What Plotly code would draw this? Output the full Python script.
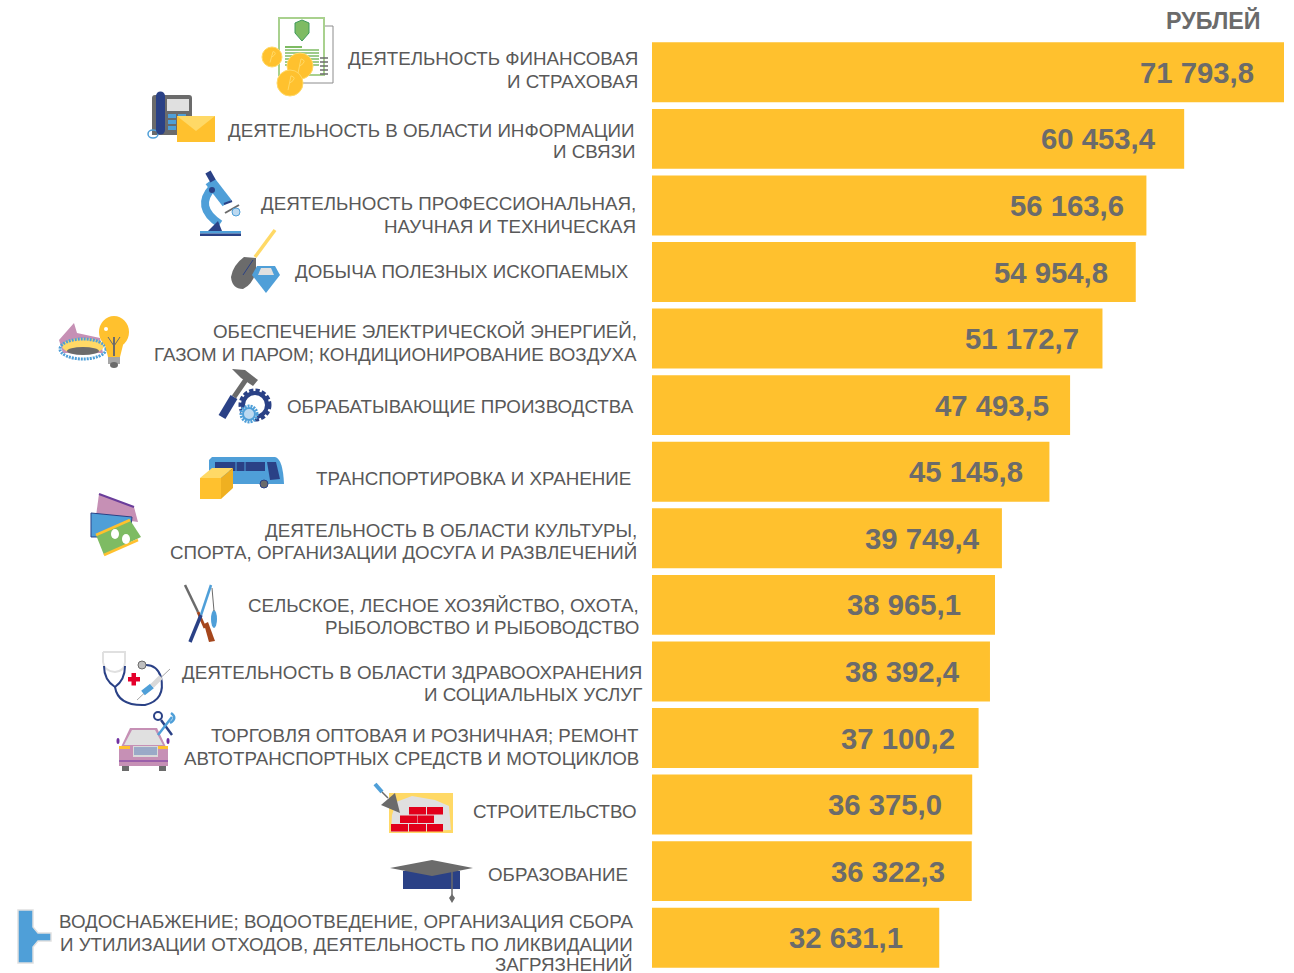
import plotly.graph_objects as go

W, H = 1294, 973
ML, MR, MT, MB = 652, 10, 39, 2

category_lines = [
    ["ДЕЯТЕЛЬНОСТЬ ФИНАНСОВАЯ", "И СТРАХОВАЯ"],
    ["ДЕЯТЕЛЬНОСТЬ В ОБЛАСТИ ИНФОРМАЦИИ", "И СВЯЗИ"],
    ["ДЕЯТЕЛЬНОСТЬ ПРОФЕССИОНАЛЬНАЯ,", "НАУЧНАЯ И ТЕХНИЧЕСКАЯ"],
    ["ДОБЫЧА ПОЛЕЗНЫХ ИСКОПАЕМЫХ"],
    ["ОБЕСПЕЧЕНИЕ ЭЛЕКТРИЧЕСКОЙ ЭНЕРГИЕЙ,", "ГАЗОМ И ПАРОМ; КОНДИЦИОНИРОВАНИЕ ВОЗДУХА"],
    ["ОБРАБАТЫВАЮЩИЕ ПРОИЗВОДСТВА"],
    ["ТРАНСПОРТИРОВКА И ХРАНЕНИЕ"],
    ["ДЕЯТЕЛЬНОСТЬ В ОБЛАСТИ КУЛЬТУРЫ,", "СПОРТА, ОРГАНИЗАЦИИ ДОСУГА И РАЗВЛЕЧЕНИЙ"],
    ["СЕЛЬСКОЕ, ЛЕСНОЕ ХОЗЯЙСТВО, ОХОТА,", "РЫБОЛОВСТВО И РЫБОВОДСТВО"],
    ["ДЕЯТЕЛЬНОСТЬ В ОБЛАСТИ ЗДРАВООХРАНЕНИЯ", "И СОЦИАЛЬНЫХ УСЛУГ"],
    ["ТОРГОВЛЯ ОПТОВАЯ И РОЗНИЧНАЯ; РЕМОНТ", "АВТОТРАНСПОРТНЫХ СРЕДСТВ И МОТОЦИКЛОВ"],
    ["СТРОИТЕЛЬСТВО"],
    ["ОБРАЗОВАНИЕ"],
    ["ВОДОСНАБЖЕНИЕ; ВОДООТВЕДЕНИЕ, ОРГАНИЗАЦИЯ СБОРА",
     "И УТИЛИЗАЦИИ ОТХОДОВ, ДЕЯТЕЛЬНОСТЬ ПО ЛИКВИДАЦИИ", "ЗАГРЯЗНЕНИЙ"],
]
values = [71793.8, 60453.4, 56163.6, 54954.8, 51172.7, 47493.5, 45145.8,
          39749.4, 38965.1, 38392.4, 37100.2, 36375.0, 36322.3, 32631.1]
value_texts = ["71 793,8", "60 453,4", "56 163,6", "54 954,8", "51 172,7", "47 493,5", "45 145,8",
               "39 749,4", "38 965,1", "38 392,4", "37 100,2", "36 375,0", "36 322,3", "32 631,1"]
unit_label = "РУБЛЕЙ"
categories = [" ".join(l) for l in category_lines]

# layout of the labels, in page pixels
label_right = [640, 637, 638, 631, 639, 636, 633, 639, 641, 644, 641, 639, 630, 635]
label_y = [[59, 81], [130, 152], [203, 226], [271], [331, 354], [406], [478], [530, 552],
           [605, 627], [672, 694], [735, 758], [811], [874], [921, 944, 964.5]]
value_gap = [28, 26, 20, 26, 21, 19, 24, 20, 32, 28, 22, 28, 25, 34]

GREY, VALUE_GREY = "#595959", "#6b6b6b"
YEL, LYEL, BLUE, NAVY, PINK, RED, GR, LG = "#ffc12e", "#ffd966", "#4f9fd8", "#2a4186", "#c690b5", "#e2001a", "#6b6b6b", "#e0e0e0"
GREEN, LGREEN = "#7ebb63", "#a9d18e"


def px(x):
    return (x - ML) / (W - ML - MR)


def py(y):
    return 1 - (y - MT) / (H - MT - MB)


shapes = []


def poly(pts, fill, line=None, lw=1):
    d = "M" + " L".join(f"{px(x):.5f},{py(y):.5f}" for x, y in pts) + " Z"
    shapes.append(dict(type="path", xref="paper", yref="paper", path=d, fillcolor=fill,
                       line=dict(color=line or fill, width=lw if line else 0)))


def rect(x0, y0, x1, y1, fill, line=None, lw=1):
    shapes.append(dict(type="rect", xref="paper", yref="paper", x0=px(x0), x1=px(x1), y0=py(y0), y1=py(y1),
                       fillcolor=fill, line=dict(color=line or fill, width=lw if line else 0)))


def ell(cx, cy, rx, ry, fill, line=None, lw=1, dash=None):
    ln = dict(color=line or fill, width=lw if line else 0)
    if dash:
        ln["dash"] = dash
    shapes.append(dict(type="circle", xref="paper", yref="paper", x0=px(cx - rx), x1=px(cx + rx),
                       y0=py(cy + ry), y1=py(cy - ry), fillcolor=fill, line=ln))


def seg(x0, y0, x1, y1, color, lw=2):
    shapes.append(dict(type="line", xref="paper", yref="paper", x0=px(x0), x1=px(x1), y0=py(y0), y1=py(y1),
                       line=dict(color=color, width=lw)))


def curve(cmds, color, lw=2, fill=None):
    parts = []
    for c in cmds:
        parts.append(c[0] + " ".join(f"{px(c[i]):.5f},{py(c[i + 1]):.5f}" for i in range(1, len(c), 2)))
    sh = dict(type="path", xref="paper", yref="paper", path=" ".join(parts) + (" Z" if fill else ""),
              line=dict(color=color, width=lw))
    if fill:
        sh["fillcolor"] = fill
    shapes.append(sh)


# --- finance
rect(287, 26, 333, 83, "white", "#8c8c8c", 1)
rect(279, 18, 324, 75, "white", LGREEN, 2)
poly([(302, 20), (309, 23), (309, 33), (302, 41), (295, 33), (295, 23)], GREEN, "#3f9a5c", 1)
seg(285, 47, 302, 47, GREEN, 2)
for yy in [50, 53, 56, 59, 62, 65]:
    seg(285, yy, 319, yy, GREEN, 1.5)
for yy in [58, 62, 66, 70, 74]:
    seg(320, yy, 328, yy, GR, 1.5)
for cx, cy, r in [(272, 57, 10), (300, 66, 13), (290, 83, 13)]:
    ell(cx, cy, r, r, YEL, LYEL, 1)
    seg(cx - 2, cy + r * .55, cx + 1, cy - r * .55, LYEL, 1)
    curve([("M", cx + 1, cy - r * .55), ("Q", cx + r * .6, cy - r * .4, cx, cy)], LYEL, 1)
# --- phone
curve([("M", 155, 95), ("L", 189, 95), ("Q", 192, 95, 192, 98), ("L", 192, 135), ("L", 152, 135),
       ("L", 152, 98), ("Q", 152, 95, 155, 95)], GR, 0, GR)
rect(167, 99, 189, 111, LG)
for yy in [114, 120, 126]:
    rect(168, yy, 176, yy + 4, BLUE)
    rect(178, yy, 186, yy + 4, BLUE)
ell(153, 134, 5, 4, "rgba(0,0,0,0)", BLUE, 1.5)
seg(160.5, 96, 160.5, 130, NAVY, 9)
ell(160.5, 96, 4.5, 4.5, NAVY)
ell(160.5, 130, 4.5, 4.5, NAVY)
rect(177, 116, 215, 142, YEL)
poly([(177, 116), (215, 116), (196, 131)], LYEL)
# --- microscope
curve([("M", 220, 224), ("Q", 194, 207, 213, 187)], BLUE, 8)
seg(210, 181, 227, 203, BLUE, 11)
seg(208, 172, 213, 181, NAVY, 6)
ell(212, 190, 3, 3, NAVY)
seg(224, 204, 232, 201, NAVY, 2)
seg(225, 213, 239, 205, GR, 2)
ell(236, 212, 4, 4, "#bcd9f0", BLUE, 1)
poly([(208, 231), (222, 231), (218, 221)], NAVY)
rect(200, 231, 241, 233.5, BLUE)
rect(200, 233.5, 241, 236, NAVY)
# --- shovel & diamond
seg(255, 257, 275, 230, LYEL, 3.5)
curve([("M", 256, 258), ("L", 244, 257), ("Q", 233, 265, 231, 277), ("Q", 232, 289, 243, 289),
       ("Q", 252, 285, 256, 272)], GR, 0, GR)
seg(253, 260, 243, 275, NAVY, 1)
poly([(257, 266), (275, 266), (280, 275), (266, 293), (252, 275)], BLUE)
poly([(261, 268), (271, 268), (274, 275), (258, 275)], LG)
# --- burner & bulb
poly([(59, 340), (74, 323), (77, 333), (100, 338), (103, 353), (63, 353)], PINK)
ell(83, 346, 21, 8, LYEL)
ell(83, 349, 23, 10, "rgba(0,0,0,0)", BLUE, 3, "2px,1px")
ell(83, 351, 16, 4, GR)
ell(114, 332, 15, 16, YEL)
poly([(104, 341), (124, 341), (120, 357), (108, 357)], YEL)
ell(106, 329, 2, 2, "white")
seg(114, 337, 114, 356, GR, 2)
seg(108, 337, 114, 346, GR, 1)
seg(120, 337, 114, 346, GR, 1)
rect(108, 357, 120, 364, "#a6a6a6")
ell(114, 365, 4, 3, GR)
# --- hammer & gears
seg(222, 417, 234, 397, NAVY, 8)
seg(234, 397, 247, 378, GR, 5)
poly([(232, 369), (245, 370), (258, 380), (253, 386), (241, 378)], GR)
ell(255, 405, 14, 14, "white", NAVY, 5, "4px,2px")
ell(255, 405, 12, 12, "white", NAVY, 4)
ell(249, 414, 8, 8, "white", BLUE, 3, "2px,1px")
ell(249, 414, 6, 6, "#bcd9f0", BLUE, 2)
# --- bus & box
curve([("M", 212, 457), ("L", 275, 457), ("Q", 283, 459, 284, 484), ("L", 209, 484), ("L", 209, 460)], BLUE, 0, BLUE)
rect(215, 462, 265, 471, NAVY)
seg(236, 462, 236, 471, BLUE, 1)
seg(245, 462, 245, 471, BLUE, 1)
poly([(267, 462), (276, 462), (280, 479), (270, 480)], NAVY)
ell(264, 484, 4, 4, GR, NAVY, 1)
rect(200, 478, 221, 499, YEL)
poly([(200, 478), (212, 468), (233, 468), (221, 478)], LYEL)
poly([(221, 478), (233, 468), (233, 488), (221, 499)], "#efb021")
# --- tickets
poly([(99, 494), (134, 507), (138, 522), (96, 516)], PINK)
seg(99, 494, 134, 507, "#6a3d9a", 2)
poly([(91, 513), (132, 517), (130, 537), (91, 537)], BLUE, NAVY, 1)
poly([(96, 535), (130, 520), (141, 537), (104, 555)], GREEN)
seg(96, 535, 130, 520, YEL, 2.5)
seg(104, 555, 138, 540, YEL, 2.5)
ell(115, 534, 4, 5, "white")
ell(126, 539, 4, 5, "white")
# --- hunting & fishing
seg(185, 585, 198, 612, GR, 2.5)
seg(198, 612, 205, 628, "#a5461c", 3)
poly([(204, 624), (208, 622), (215, 641), (209, 642)], "#a5461c")
seg(211, 585, 201, 615, BLUE, 2.5)
seg(201, 615, 190, 642, NAVY, 3.5)
ell(214, 619, 3, 9, BLUE)
seg(212, 588, 214, 611, GR, 1)
# --- health
curve([("M", 103, 652), ("L", 103, 662), ("Q", 104, 671, 115, 672), ("Q", 125, 671, 125, 662), ("L", 125, 652),
       ("L", 103, 652)], LG, 2)
curve([("M", 104, 666), ("Q", 104, 680, 115, 687), ("Q", 125, 680, 125, 666)], NAVY, 2)
curve([("M", 115, 687), ("Q", 118, 706, 145, 705), ("Q", 166, 700, 161, 677), ("Q", 157, 665, 146, 665)], NAVY, 2)
ell(142, 665, 4, 4, "#bfbfbf", GR, 1)
rect(128, 677, 140, 681.5, "#e4002b")
rect(131.5, 673, 136, 685.5, "#e4002b")
seg(137, 700, 170, 669, "#a6a6a6", 1)
seg(143, 693, 152, 686, BLUE, 6)
seg(152, 686, 161, 677, "#d9d9d9", 5)
# --- car & tools
poly([(130, 728), (157, 728), (166, 747), (121, 747)], PINK)
poly([(132, 730), (155, 730), (163, 745), (124, 745)], LG)
rect(119, 747, 168, 766, PINK)
seg(119, 761, 168, 761, "#7030a0", 1)
rect(119, 746, 130, 749, YEL)
rect(158, 746, 168, 749, YEL)
rect(133, 746, 158, 757, "#d9d9d9")
for yy in [748, 750, 752, 754]:
    seg(134, yy, 157, yy, "#5a7bb5", 1)
rect(122, 766, 129, 771, GR)
rect(159, 766, 166, 771, GR)
ell(118, 741, 1.5, 3, "#7030a0")
ell(168, 741, 1.5, 3, "#7030a0")
seg(172, 735, 161, 720, NAVY, 2.5)
ell(158, 716, 4, 4, "white", NAVY, 2)
seg(158, 735, 172, 717, BLUE, 2.5)
curve([("M", 171, 713), ("Q", 178, 718, 170, 723)], BLUE, 2.5)
# --- construction
rect(389, 793, 453, 833, LYEL)
poly([(396, 802), (412, 796), (435, 800), (449, 806), (451, 830), (391, 832), (392, 815)], LG)
for row_y, xs in [(807, [(409, 426), (427, 443)]), (815.5, [(400, 417), (417.5, 434)]),
                  (824, [(391, 408), (409, 426), (427, 443)])]:
    for a, b in xs:
        rect(a, row_y, b, row_y + 7.5, RED)
poly([(395, 793), (381, 805), (400, 813)], GR)
seg(375, 784, 382, 792, BLUE, 4)
seg(382, 792, 388, 798, GR, 1.5)
# --- cap
rect(403, 871, 460, 889, NAVY)
poly([(390, 868), (432, 860), (473, 868), (432, 876)], GR)
seg(452, 872, 452, 895, GR, 1.5)
poly([(449, 898), (452, 894), (455, 898), (452, 903)], GR)
# --- pipe
poly([(18, 910), (33, 910), (33, 927), (38, 933), (51, 933), (51, 941), (38, 941), (33, 947), (33, 963), (18, 963)],
     BLUE, LG, 1.5)

annotations = []
for lines, right, ys in zip(category_lines, label_right, label_y):
    for t, yy in zip(lines, ys):
        annotations.append(dict(text=t, xref="paper", yref="paper", x=px(right), y=py(yy), xanchor="right",
                                yanchor="middle", showarrow=False,
                                font=dict(family="Liberation Sans", size=18.75, color=GREY)))
for cat, v, t, gap in zip(categories, values, value_texts, value_gap):
    annotations.append(dict(text=t, x=v, y=cat, xref="x", yref="y", xanchor="right", yanchor="middle",
                            xshift=-gap, showarrow=False,
                            font=dict(family="Liberation Sans", size=29.3, color=VALUE_GREY, weight="bold")))
annotations.append(dict(text=unit_label, xref="paper", yref="paper", x=px(1263), y=py(20), xanchor="right",
                        yanchor="middle", showarrow=False,
                        font=dict(family="Liberation Sans", size=23.3, color=VALUE_GREY, weight="bold")))

fig = go.Figure(go.Bar(x=values, y=categories, orientation="h", marker=dict(color=YEL, line=dict(width=0)),
                       hoverinfo="x+y"))
fig.update_layout(
    width=W, height=H, margin=dict(l=ML, r=MR, t=MT, b=MB), paper_bgcolor="white", plot_bgcolor="white",
    bargap=0.1, showlegend=False, shapes=shapes, annotations=annotations,
    xaxis=dict(range=[0, max(values)], visible=False, fixedrange=True),
    yaxis=dict(range=[len(values) - 0.5, -0.5], visible=False, fixedrange=True, type="category",
               categoryorder="array", categoryarray=categories),
)
fig.write_html("out.html", config=dict(displayModeBar=False), post_script="document.body.style.margin='0';")
